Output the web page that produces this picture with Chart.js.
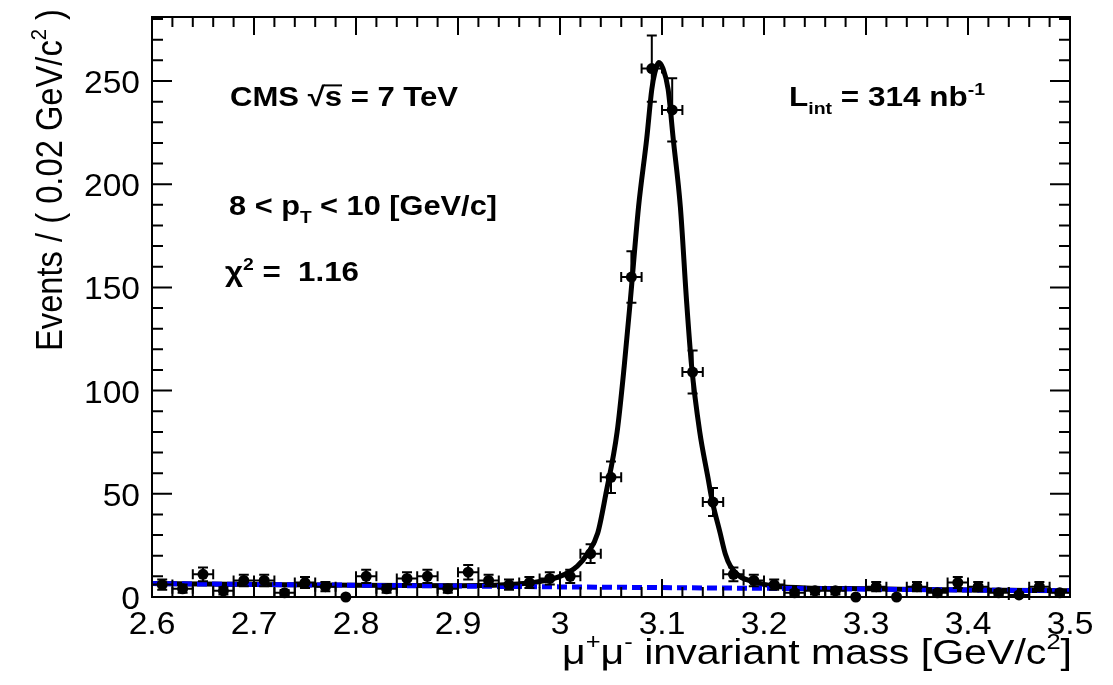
<!DOCTYPE html>
<html>
<head>
<meta charset="utf-8">
<script src="https://cdn.jsdelivr.net/npm/chart.js@4.4.0/dist/chart.umd.min.js"></script>
<style>
body { margin: 0; background: #fff; }
</style>
</head>
<body>
<canvas id="jpsi" width="1113" height="685"></canvas>
<script>
// bins are 0.02 GeV wide
var binCenters = [2.61, 2.63, 2.65, 2.67, 2.69, 2.71, 2.73, 2.75, 2.77, 2.79,
	2.81, 2.83, 2.85, 2.87, 2.89, 2.91, 2.93, 2.95, 2.97, 2.99,
	3.01, 3.03, 3.05, 3.07, 3.09, 3.11, 3.13, 3.15, 3.17, 3.19,
	3.21, 3.23, 3.25, 3.27, 3.29, 3.31, 3.33, 3.35, 3.37, 3.39,
	3.41, 3.43, 3.45, 3.47, 3.49];
var counts = [6, 4, 11, 3, 8, 8, 2, 7, 5, 0,
	10, 4, 9, 10, 4, 12, 8, 6, 7, 9,
	10, 21, 58, 155, 256, 236, 109, 46, 11, 8,
	6, 2, 3, 3, 0, 5, 0, 5, 2, 7,
	5, 2, 1, 5, 2];
var binHalfWidth = 0.01;

// total fit (signal + background)
var fitMass = [2.60, 2.70, 2.80, 2.90, 2.95, 2.98, 3.00, 3.017, 3.027, 3.037, 3.045,
	3.056, 3.063, 3.069, 3.077, 3.085, 3.090, 3.093, 3.097, 3.101, 3.106,
	3.111, 3.118, 3.124, 3.129, 3.137, 3.145, 3.149, 3.157, 3.162, 3.167,
	3.176, 3.189, 3.21, 3.25, 3.30, 3.40, 3.50];
var fitTotal = [6.5, 6.1, 5.7, 5.5, 6.0, 7.5, 10, 15, 21, 31, 50,
	80, 112, 144, 189, 222, 246, 254, 259, 256, 246,
	222, 189, 144, 112, 80, 58, 47, 31, 21, 15,
	10, 7.5, 5.3, 4.3, 4.0, 3.4, 3.0];

// background only (blue dashed)
var bkgMass = [2.6, 2.8, 3.0, 3.2, 3.4, 3.5];
var bkgValues = [6.5, 5.7, 4.9, 4.2, 3.4, 3.0];

var xTicks = [2.6, 2.7, 2.8, 2.9, 3.0, 3.1, 3.2, 3.3, 3.4, 3.5];
var xTickLabels = ['2.6', '2.7', '2.8', '2.9', '3', '3.1', '3.2', '3.3', '3.4', '3.5'];
var yTicks = [0, 50, 100, 150, 200, 250];
var yTickLabels = ['0', '50', '100', '150', '200', '250'];

var FONT = '"Liberation Sans", Arial, Helvetica, sans-serif';

function toPoints(xs, ys) {
	var pts = [];
	for (var i = 0; i < xs.length; i++) {
		pts.push({x: xs[i], y: ys[i]});
	}
	return pts;
}

//draws text with sup/sub parts; parts = [text, mode]
function drawRich(ctx, parts, x, y, size, opts) {
	opts = opts || {};
	var weight = opts.bold ? 'bold ' : '';
	function fontFor(p) {
		var s = (p[1] == 'sup' || p[1] == 'sub') ? size * 0.62 : size;
		return weight + s + 'px ' + FONT;
	}
	var w = 0;
	parts.forEach(function(p) {
		ctx.font = fontFor(p);
		w += ctx.measureText(p[0]).width;
	});
	var sx = opts.width ? opts.width / w : (opts.sx || 1);
	ctx.save();
	ctx.translate(x, y);
	if (opts.rotate) ctx.rotate(opts.rotate);
	ctx.scale(sx, 1);
	ctx.fillStyle = '#000';
	ctx.textBaseline = 'alphabetic';
	ctx.textAlign = 'left';
	var cx = opts.align == 'right' ? -w : (opts.align == 'center' ? -w / 2 : 0);
	parts.forEach(function(p) {
		ctx.font = fontFor(p);
		var dy = 0;
		if (p[1] == 'sup') dy = -size * 0.42;
		if (p[1] == 'sub') dy = size * 0.3;
		ctx.fillText(p[0], cx, dy);
		var pw = ctx.measureText(p[0]).width;
		if (p[1] == 'over') {
			ctx.fillRect(cx - 1, -size * 0.8, pw + 1, 2);
		}
		cx += pw;
	});
	ctx.restore();
}

var errorBars = {
	id: 'errorBars',
	afterDatasetsDraw: function(chart) {
		var ctx = chart.ctx;
		var xs = chart.scales.x, ys = chart.scales.y;
		ctx.save();
		ctx.strokeStyle = '#000';
		ctx.lineWidth = 2;
		ctx.beginPath();
		for (var i = 0; i < binCenters.length; i++) {
			var n = counts[i];
			if (n == 0) continue;
			var err = Math.sqrt(n);
			var px = xs.getPixelForValue(binCenters[i]);
			var py = ys.getPixelForValue(n);
			var xl = xs.getPixelForValue(binCenters[i] - binHalfWidth);
			var xr = xs.getPixelForValue(binCenters[i] + binHalfWidth);
			var yt = ys.getPixelForValue(n + err);
			var yb = ys.getPixelForValue(Math.max(n - err, 0));
			ctx.moveTo(xl, py); ctx.lineTo(xr, py);
			ctx.moveTo(xl, py - 5); ctx.lineTo(xl, py + 5);
			ctx.moveTo(xr, py - 5); ctx.lineTo(xr, py + 5);
			ctx.moveTo(px, yt); ctx.lineTo(px, yb);
			ctx.moveTo(px - 5, yt); ctx.lineTo(px + 5, yt);
			ctx.moveTo(px - 5, yb); ctx.lineTo(px + 5, yb);
		}
		ctx.stroke();
		ctx.restore();
	}
};

var frameAndText = {
	id: 'frameAndText',
	afterDraw: function(chart) {
		var ctx = chart.ctx, a = chart.chartArea;
		var xs = chart.scales.x, ys = chart.scales.y;
		ctx.save();
		ctx.strokeStyle = '#000';
		ctx.lineWidth = 2;
		ctx.strokeRect(a.left, a.top, a.right - a.left, a.bottom - a.top);
		ctx.beginPath();
		// x ticks, bottom and top, minor every 0.02
		for (var k = 0; k <= 45; k++) {
			var v = 2.6 + k * 0.02;
			var px = xs.getPixelForValue(v);
			var len = (k % 5 == 0) ? 18 : 10;
			ctx.moveTo(px, a.bottom); ctx.lineTo(px, a.bottom - len);
			ctx.moveTo(px, a.top); ctx.lineTo(px, a.top + len);
		}
		// y ticks, left and right, minor every 10
		for (var j = 0; j <= 28; j++) {
			var py = ys.getPixelForValue(j * 10);
			var ylen = (j % 5 == 0) ? 20 : 11;
			ctx.moveTo(a.left, py); ctx.lineTo(a.left + ylen, py);
			ctx.moveTo(a.right, py); ctx.lineTo(a.right - ylen, py);
		}
		ctx.stroke();
		ctx.restore();

		// tick labels
		for (var i = 0; i < xTicks.length; i++) {
			drawRich(ctx, [[xTickLabels[i], '']], xs.getPixelForValue(xTicks[i]), 634, 32, {align: 'center', sx: 1.05});
		}
		for (var m = 0; m < yTicks.length; m++) {
			drawRich(ctx, [[yTickLabels[m], '']], 140, ys.getPixelForValue(yTicks[m]) + 12, 32, {align: 'right', sx: 1.05});
		}

		// axis titles
		drawRich(ctx, [['Events / ( 0.02 GeV/c', ''], ['2', 'sup'], [' )', '']], 62, 9, 37,
			{align: 'right', rotate: -Math.PI / 2, width: 342});
		drawRich(ctx, [['\u03bc', ''], ['+', 'sup'], ['\u03bc', ''], ['-', 'sup'], [' invariant mass [GeV/c', ''], ['2', 'sup'], [']', '']],
			1072, 664, 35, {align: 'right', width: 510});

		// labels
		drawRich(ctx, [['CMS \u221a', ''], ['s', 'over'], [' = 7 TeV', '']], 230, 106, 27, {bold: true, width: 228});
		drawRich(ctx, [['8 < p', ''], ['T', 'sub'], [' < 10 [GeV/c]', '']], 229, 215, 27, {bold: true, width: 268});
		drawRich(ctx, [['\u03c7', ''], ['2', 'sup'], [' =  1.16', '']], 225, 281, 27, {bold: true, width: 134});
		drawRich(ctx, [['L', ''], ['int', 'sub'], [' = 314 nb', ''], ['-1', 'sup']], 789, 106, 27, {bold: true, width: 196});
	}
};

var ctx = document.getElementById('jpsi').getContext('2d');
var massChart = new Chart(ctx, {
	type: 'scatter',
	data: {
		datasets: [{
			label: 'data',
			data: toPoints(binCenters, counts),
			pointRadius: 5.5,
			pointBackgroundColor: '#000',
			pointBorderColor: '#000',
			pointBorderWidth: 0,
			showLine: false,
			clip: false,
			order: 0
		}, {
			label: 'background',
			data: toPoints(bkgMass, bkgValues),
			showLine: true,
			borderColor: '#0000ff',
			borderWidth: 5,
			borderDash: [10, 5],
			pointRadius: 0,
			order: 1
		}, {
			label: 'total fit',
			data: toPoints(fitMass, fitTotal),
			showLine: true,
			borderColor: '#000',
			borderWidth: 5,
			pointRadius: 0,
			cubicInterpolationMode: 'monotone',
			order: 2
		}]
	},
	options: {
		responsive: false,
		animation: false,
		devicePixelRatio: 1,
		layout: {padding: {left: 0, right: 43, top: 17, bottom: 0}},
		plugins: {legend: {display: false}, tooltip: {enabled: false}},
		scales: {
			x: {
				type: 'linear', min: 2.6, max: 3.5,
				grid: {display: false}, border: {display: false},
				ticks: {display: false},
				afterFit: function(s) { s.height = 88; }
			},
			y: {
				type: 'linear', min: 0, max: 281,
				grid: {display: false}, border: {display: false},
				ticks: {display: false},
				afterFit: function(s) { s.width = 152; }
			}
		}
	},
	plugins: [errorBars, frameAndText]
});
</script>
</body>
</html>
